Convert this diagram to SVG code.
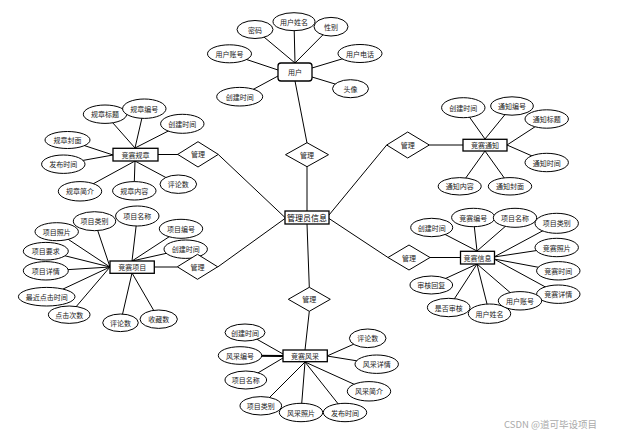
<svg xmlns="http://www.w3.org/2000/svg" width="624" height="436" viewBox="0 0 624 436">
<style>
text{font-family:"Noto Sans CJK SC","Liberation Sans",sans-serif;font-size:7px;fill:#222;text-anchor:middle;dominant-baseline:central}
.e{fill:#fff;stroke:#000;stroke-width:1}
.r{fill:#fff;stroke:#000;stroke-width:1.3}
.d{fill:#fff;stroke:#000;stroke-width:1}
#links line{stroke:#000;stroke-width:1}
.big{font-size:8px;fill:#000}
.wm{font-size:9.5px;fill:#aaa;text-anchor:start}
</style>
<rect width="624" height="436" fill="#fff"/>
<g id="links">
<line x1="255" y1="29.5" x2="295" y2="63"/>
<line x1="294" y1="21.7" x2="295" y2="63"/>
<line x1="331" y1="26.7" x2="295" y2="63"/>
<line x1="229.5" y1="53.8" x2="278" y2="70"/>
<line x1="239.7" y1="96.7" x2="278" y2="76"/>
<line x1="360" y1="53.5" x2="312" y2="68"/>
<line x1="350.5" y1="88.7" x2="312" y2="77"/>
<line x1="295" y1="81" x2="307" y2="143"/>
<line x1="307" y1="166.5" x2="307" y2="211"/>
<line x1="105" y1="114" x2="135" y2="148"/>
<line x1="144" y1="109" x2="135" y2="148"/>
<line x1="182" y1="124" x2="135" y2="148"/>
<line x1="67.5" y1="140" x2="113" y2="155"/>
<line x1="63" y1="164" x2="113" y2="155"/>
<line x1="80" y1="191" x2="135" y2="161"/>
<line x1="134" y1="191" x2="135" y2="161"/>
<line x1="178" y1="184" x2="135" y2="161"/>
<line x1="158" y1="154.5" x2="178" y2="154.5"/>
<line x1="218.3" y1="154.5" x2="285" y2="217.5"/>
<line x1="463" y1="108" x2="485" y2="139"/>
<line x1="512" y1="106" x2="485" y2="139"/>
<line x1="547" y1="119" x2="507" y2="145"/>
<line x1="547" y1="162.5" x2="507" y2="145"/>
<line x1="460" y1="186" x2="485" y2="151"/>
<line x1="510" y1="186" x2="485" y2="151"/>
<line x1="429.3" y1="145" x2="463" y2="145"/>
<line x1="386.7" y1="145" x2="329" y2="215"/>
<line x1="94.5" y1="221" x2="110" y2="267"/>
<line x1="56.7" y1="231.7" x2="110" y2="267"/>
<line x1="45.8" y1="251" x2="110" y2="267"/>
<line x1="45.8" y1="271" x2="110" y2="267"/>
<line x1="46.7" y1="296.7" x2="110" y2="267"/>
<line x1="69" y1="315" x2="110" y2="267"/>
<line x1="137.3" y1="216" x2="132" y2="261"/>
<line x1="181" y1="229" x2="132" y2="261"/>
<line x1="185.7" y1="249" x2="132" y2="261"/>
<line x1="120.5" y1="323" x2="132" y2="273"/>
<line x1="158.7" y1="319" x2="132" y2="273"/>
<line x1="154" y1="267" x2="177.3" y2="267"/>
<line x1="217.7" y1="267" x2="285" y2="218.5"/>
<line x1="431.7" y1="227.5" x2="477" y2="251"/>
<line x1="473.3" y1="217.5" x2="477" y2="251"/>
<line x1="515" y1="218" x2="477" y2="251"/>
<line x1="556.7" y1="223.3" x2="494" y2="257"/>
<line x1="556.7" y1="247.5" x2="494" y2="257"/>
<line x1="558.3" y1="271" x2="494" y2="259"/>
<line x1="558.3" y1="294" x2="494" y2="259"/>
<line x1="431.3" y1="285" x2="477" y2="264"/>
<line x1="448.7" y1="307.5" x2="477" y2="264"/>
<line x1="489.5" y1="314" x2="477" y2="264"/>
<line x1="520" y1="301" x2="477" y2="264"/>
<line x1="430" y1="257.5" x2="460" y2="257.5"/>
<line x1="388" y1="257.5" x2="329" y2="218.5"/>
<line x1="245" y1="332.5" x2="283" y2="354"/>
<line x1="240" y1="355.5" x2="283" y2="356" style="stroke-width:2"/>
<line x1="246" y1="380" x2="283" y2="358"/>
<line x1="261" y1="406" x2="305" y2="362"/>
<line x1="301" y1="412.5" x2="305" y2="362"/>
<line x1="345" y1="412.5" x2="305" y2="362"/>
<line x1="369" y1="391" x2="305" y2="362"/>
<line x1="376.7" y1="364" x2="327" y2="356"/>
<line x1="367.7" y1="338" x2="327" y2="356"/>
<line x1="309.3" y1="311.3" x2="305" y2="350"/>
<line x1="307" y1="224" x2="309.3" y2="287.3"/>
</g>

<g id="admin"><rect class="r" x="285" y="211" width="44" height="13"/><text class="big" x="307" y="217.5">管理员信息</text></g>

<g id="user"><rect class="r" x="278" y="63" width="34" height="18" rx="3"/><text x="295" y="72">用户</text></g>
<g id="u-pwd"><ellipse class="e" cx="255" cy="29.5" rx="18" ry="9"/><text x="255" y="29.5">密码</text></g>
<g id="u-name"><ellipse class="e" cx="294" cy="21.7" rx="21" ry="9"/><text x="294" y="21.7">用户姓名</text></g>
<g id="u-sex"><ellipse class="e" cx="331" cy="26.7" rx="17" ry="9.3"/><text x="331" y="26.7">性别</text></g>
<g id="u-acc"><ellipse class="e" cx="229.5" cy="53.8" rx="22" ry="9"/><text x="229.5" y="53.8">用户账号</text></g>
<g id="u-tel"><ellipse class="e" cx="360" cy="53.5" rx="22" ry="9"/><text x="360" y="53.5">用户电话</text></g>
<g id="u-time"><ellipse class="e" cx="239.7" cy="96.7" rx="23" ry="9.3"/><text x="239.7" y="96.7">创建时间</text></g>
<g id="u-avatar"><ellipse class="e" cx="350.5" cy="88.7" rx="18" ry="9"/><text x="350.5" y="88.7">头像</text></g>
<g id="m-user"><polygon class="d" points="307,142.7 328.5,154.7 307,166.7 285.5,154.7"/><text x="307" y="154.7">管理</text></g>

<g id="rules"><rect class="r" x="113" y="148.3" width="45" height="12.7"/><text x="135.5" y="154.7">竞赛规章</text></g>
<g id="r-title"><ellipse class="e" cx="105" cy="114.2" rx="21.7" ry="9.2"/><text x="105" y="114.2">规章标题</text></g>
<g id="r-no"><ellipse class="e" cx="144.3" cy="108.7" rx="21.7" ry="9.7"/><text x="144.3" y="108.7">规章编号</text></g>
<g id="r-time"><ellipse class="e" cx="182.3" cy="123.8" rx="21.7" ry="9.5"/><text x="182.3" y="123.8">创建时间</text></g>
<g id="r-cover"><ellipse class="e" cx="67.5" cy="140" rx="22.5" ry="8.5"/><text x="67.5" y="140">规章封面</text></g>
<g id="r-pub"><ellipse class="e" cx="63.3" cy="164.2" rx="21.7" ry="9.2"/><text x="63.3" y="164.2">发布时间</text></g>
<g id="r-intro"><ellipse class="e" cx="80" cy="191.3" rx="21.7" ry="9.7"/><text x="80" y="191.3">规章简介</text></g>
<g id="r-content"><ellipse class="e" cx="134.3" cy="190.8" rx="21.7" ry="9.2"/><text x="134.3" y="190.8">规章内容</text></g>
<g id="r-cmt"><ellipse class="e" cx="178.3" cy="184.2" rx="18.3" ry="9.2"/><text x="178.3" y="184.2">评论数</text></g>
<g id="m-rules"><polygon class="d" points="198,141.7 218.3,154.4 198,167 177.7,154.4"/><text x="198" y="154.4">管理</text></g>

<g id="notice"><rect class="r" x="463" y="139.3" width="44" height="11.7"/><text x="485" y="145.2">竞赛通知</text></g>
<g id="n-time"><ellipse class="e" cx="463.3" cy="107.7" rx="21.7" ry="10"/><text x="463.3" y="107.7">创建时间</text></g>
<g id="n-no"><ellipse class="e" cx="512" cy="106" rx="21.3" ry="9.2"/><text x="512" y="106">通知编号</text></g>
<g id="n-title"><ellipse class="e" cx="546.7" cy="119" rx="21.7" ry="9.2"/><text x="546.7" y="119">通知标题</text></g>
<g id="n-ntime"><ellipse class="e" cx="546.7" cy="162.5" rx="21.7" ry="9.2"/><text x="546.7" y="162.5">通知时间</text></g>
<g id="n-content"><ellipse class="e" cx="459.7" cy="186.3" rx="21.5" ry="8.7"/><text x="459.7" y="186.3">通知内容</text></g>
<g id="n-cover"><ellipse class="e" cx="510" cy="186.3" rx="21.7" ry="8.7"/><text x="510" y="186.3">通知封面</text></g>
<g id="m-notice"><polygon class="d" points="407.7,132 429.3,145 407.7,158 386.7,145"/><text x="407.7" y="145">管理</text></g>

<g id="project"><rect class="r" x="110" y="261" width="44.3" height="12.3"/><text x="132.2" y="267.2">竞赛项目</text></g>
<g id="p-type"><ellipse class="e" cx="94.5" cy="221.2" rx="21.2" ry="9.5"/><text x="94.5" y="221.2">项目类别</text></g>
<g id="p-name"><ellipse class="e" cx="137.3" cy="216" rx="21.7" ry="10"/><text x="137.3" y="216">项目名称</text></g>
<g id="p-no"><ellipse class="e" cx="181" cy="228.8" rx="21.7" ry="9.5"/><text x="181" y="228.8">项目编号</text></g>
<g id="p-time"><ellipse class="e" cx="185.7" cy="249.2" rx="21.7" ry="9.2"/><text x="185.7" y="249.2">创建时间</text></g>
<g id="p-photo"><ellipse class="e" cx="56.7" cy="231.7" rx="21.7" ry="9"/><text x="56.7" y="231.7">项目照片</text></g>
<g id="p-req"><ellipse class="e" cx="45.8" cy="251.2" rx="22.5" ry="8.8"/><text x="45.8" y="251.2">项目要求</text></g>
<g id="p-detail"><ellipse class="e" cx="45.8" cy="270.8" rx="22.5" ry="9.2"/><text x="45.8" y="270.8">项目详情</text></g>
<g id="p-click"><ellipse class="e" cx="46.7" cy="296.7" rx="28.3" ry="9.3"/><text x="46.7" y="296.7">最近点击时间</text></g>
<g id="p-count"><ellipse class="e" cx="69.2" cy="314.7" rx="20.8" ry="8.7"/><text x="69.2" y="314.7">点击次数</text></g>
<g id="p-cmt"><ellipse class="e" cx="120.5" cy="322.8" rx="17.8" ry="8.8"/><text x="120.5" y="322.8">评论数</text></g>
<g id="p-fav"><ellipse class="e" cx="158.7" cy="319.2" rx="18.7" ry="9.2"/><text x="158.7" y="319.2">收藏数</text></g>
<g id="m-project"><polygon class="d" points="197.5,254.3 217.7,266.8 197.5,279.3 177.3,266.8"/><text x="197.5" y="266.8">管理</text></g>

<g id="info"><rect class="r" x="460.5" y="251.3" width="34" height="12.7"/><text x="477.5" y="257.7">竞赛信息</text></g>
<g id="i-time"><ellipse class="e" cx="431.7" cy="227.5" rx="21" ry="9.2"/><text x="431.7" y="227.5">创建时间</text></g>
<g id="i-no"><ellipse class="e" cx="473.3" cy="217.5" rx="21.7" ry="9.2"/><text x="473.3" y="217.5">竞赛编号</text></g>
<g id="i-name"><ellipse class="e" cx="515" cy="217.8" rx="21.7" ry="9.5"/><text x="515" y="217.8">项目名称</text></g>
<g id="i-type"><ellipse class="e" cx="556.7" cy="223.3" rx="21.7" ry="10"/><text x="556.7" y="223.3">项目类别</text></g>
<g id="i-photo"><ellipse class="e" cx="556.7" cy="247.5" rx="21.7" ry="9.2"/><text x="556.7" y="247.5">竞赛照片</text></g>
<g id="i-ctime"><ellipse class="e" cx="558.3" cy="270.8" rx="21.7" ry="9.2"/><text x="558.3" y="270.8">竞赛时间</text></g>
<g id="i-detail"><ellipse class="e" cx="558.3" cy="294.2" rx="21.7" ry="9.2"/><text x="558.3" y="294.2">竞赛详情</text></g>
<g id="i-reply"><ellipse class="e" cx="431.3" cy="285" rx="21.3" ry="9"/><text x="431.3" y="285">审核回复</text></g>
<g id="i-audit"><ellipse class="e" cx="448.7" cy="307.5" rx="21.3" ry="9.2"/><text x="448.7" y="307.5">是否审核</text></g>
<g id="i-uname"><ellipse class="e" cx="489.5" cy="313.7" rx="21.2" ry="9.7"/><text x="489.5" y="313.7">用户姓名</text></g>
<g id="i-uacc"><ellipse class="e" cx="520" cy="300.8" rx="21.7" ry="9.2"/><text x="520" y="300.8">用户账号</text></g>
<g id="m-info"><polygon class="d" points="409,245 430,257.5 409,270 388,257.5"/><text x="409" y="257.5">管理</text></g>

<g id="style"><rect class="r" x="283" y="350" width="44.3" height="11.7"/><text x="305" y="355.8">竞赛风采</text></g>
<g id="s-time"><ellipse class="e" cx="245" cy="332.5" rx="20" ry="8.5"/><text x="245" y="332.5">创建时间</text></g>
<g id="s-no"><ellipse class="e" cx="240" cy="355.5" rx="21.7" ry="8.8"/><text x="240" y="355.5">风采编号</text></g>
<g id="s-name"><ellipse class="e" cx="245.8" cy="380" rx="20.8" ry="9"/><text x="245.8" y="380">项目名称</text></g>
<g id="s-type"><ellipse class="e" cx="260.8" cy="405.8" rx="20.8" ry="9.2"/><text x="260.8" y="405.8">项目类别</text></g>
<g id="s-photo"><ellipse class="e" cx="301" cy="412.5" rx="21.7" ry="9.2"/><text x="301" y="412.5">风采照片</text></g>
<g id="s-pub"><ellipse class="e" cx="345" cy="412.5" rx="21.7" ry="9.2"/><text x="345" y="412.5">发布时间</text></g>
<g id="s-intro"><ellipse class="e" cx="369" cy="391.3" rx="21.7" ry="9.7"/><text x="369" y="391.3">风采简介</text></g>
<g id="s-detail"><ellipse class="e" cx="376.7" cy="364.2" rx="21.7" ry="9.2"/><text x="376.7" y="364.2">风采详情</text></g>
<g id="s-cmt"><ellipse class="e" cx="367.7" cy="338.3" rx="18.3" ry="9.3"/><text x="367.7" y="338.3">评论数</text></g>
<g id="m-style"><polygon class="d" points="309.3,287.3 330.3,299.3 309.3,311.3 288.3,299.3"/><text x="309.3" y="299.3">管理</text></g>

<text class="wm" x="504" y="424">CSDN @道可毕设项目</text>
</svg>
